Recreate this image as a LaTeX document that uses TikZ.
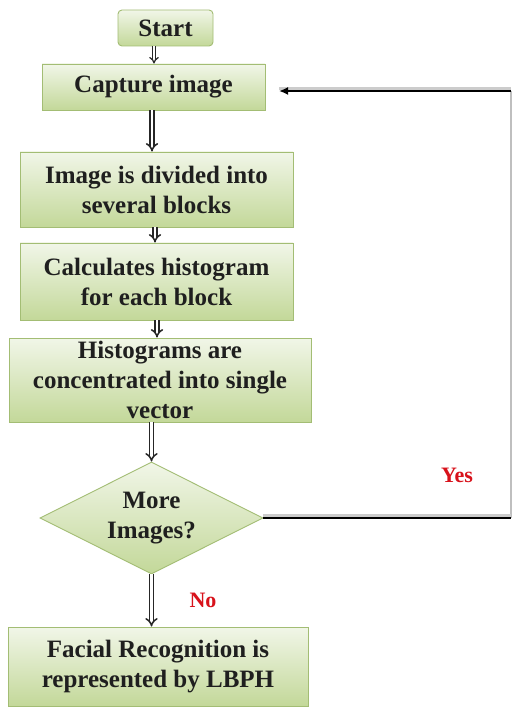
\documentclass[tikz,border=0pt]{standalone}
\usepackage{fontspec}
\setmainfont{Liberation Serif}
\usetikzlibrary{arrows.meta,shapes.geometric,calc}
\definecolor{boxtop}{HTML}{F1F6E8}
\definecolor{boxbot}{HTML}{C3D899}
\definecolor{boxline}{HTML}{A3BD74}
\definecolor{lbl}{HTML}{D8121B}
\begin{document}
\begin{tikzpicture}[x=1pt,y=-1pt,
  procbox/.style={draw=boxline, line width=0.9pt, top color=boxtop, bottom color=boxbot,
    inner sep=0pt, align=center, text=black!88,
    font=\fontsize{25}{30}\selectfont\bfseries},
  decbox/.style={procbox, diamond, aspect=2},
  dbl/.style={draw=black!85, line width=1.5pt, double=white, double distance=2.6pt, -{Implies}},
  loopline/.style={draw=black, line width=2pt},
  shadowline/.style={draw=black!20, line width=2.5pt},
  backline/.style={draw=black!25, line width=1.6pt},
  answer/.style={text=lbl, font=\fontsize{22}{26}\selectfont\bfseries}]
\useasboundingbox (0,0) rectangle (513,708);
\fill[white] (0,0) rectangle (513,708);

\node[procbox, rounded corners=4pt, minimum width=95pt, minimum height=36pt] (start) at (165.5,28) {Start};
\node[procbox, minimum width=223pt, minimum height=46pt] (cap) at (153.5,87) {Capture image};
\node[procbox, minimum width=273pt, minimum height=75pt] (div) at (156.5,189.5) {Image is divided into\\several blocks};
\node[procbox, minimum width=273pt, minimum height=77pt] (hist) at (156.5,281.5) {Calculates histogram\\for each block};
\node[procbox, minimum width=302pt, minimum height=84pt] (conc) at (160,380) {Histograms are\\concentrated into single\\vector};
\node[decbox, minimum width=223pt, minimum height=112pt] (dec) at (151.5,518) {More\\Images?};
\node[procbox, minimum width=300pt, minimum height=79pt] (fin) at (158,666.5) {Facial Recognition is\\represented by LBPH};

\node[answer] (yes) at (457,475) {Yes};
\node[answer] (no) at (203,600) {No};

\draw[dbl, line width=1.2pt, double distance=2pt] (start.south -| 154,0) -- (154,0 |- cap.north);
\draw[dbl] (cap.south -| 152,0) -- (152,0 |- div.north);
\draw[dbl] (div.south -| 155,0) -- (155,0 |- hist.north);
\draw[dbl] (hist.south -| 157,0) -- (157,0 |- conc.north);
\draw[dbl] (conc.south -| 151.5,0) -- (dec.north);
\draw[dbl] (dec.south) -- (dec.south |- fin.north);

\coordinate (rb) at (511,518);
\coordinate (rt) at (511,91);
\coordinate (ae) at (279,91);
\draw[backline] (rb) -- (rt);
\draw[shadowline] ([yshift=2.5pt]dec.east) -- ([yshift=2.5pt]rb);
\draw[shadowline] ([yshift=2.5pt]rt) -- ([yshift=2.5pt]ae);
\draw[loopline] (dec.east) -- (rb);
\draw[loopline, -{Latex[length=9pt,width=8pt]}] (rt) -- (ae);
\end{tikzpicture}
\end{document}
